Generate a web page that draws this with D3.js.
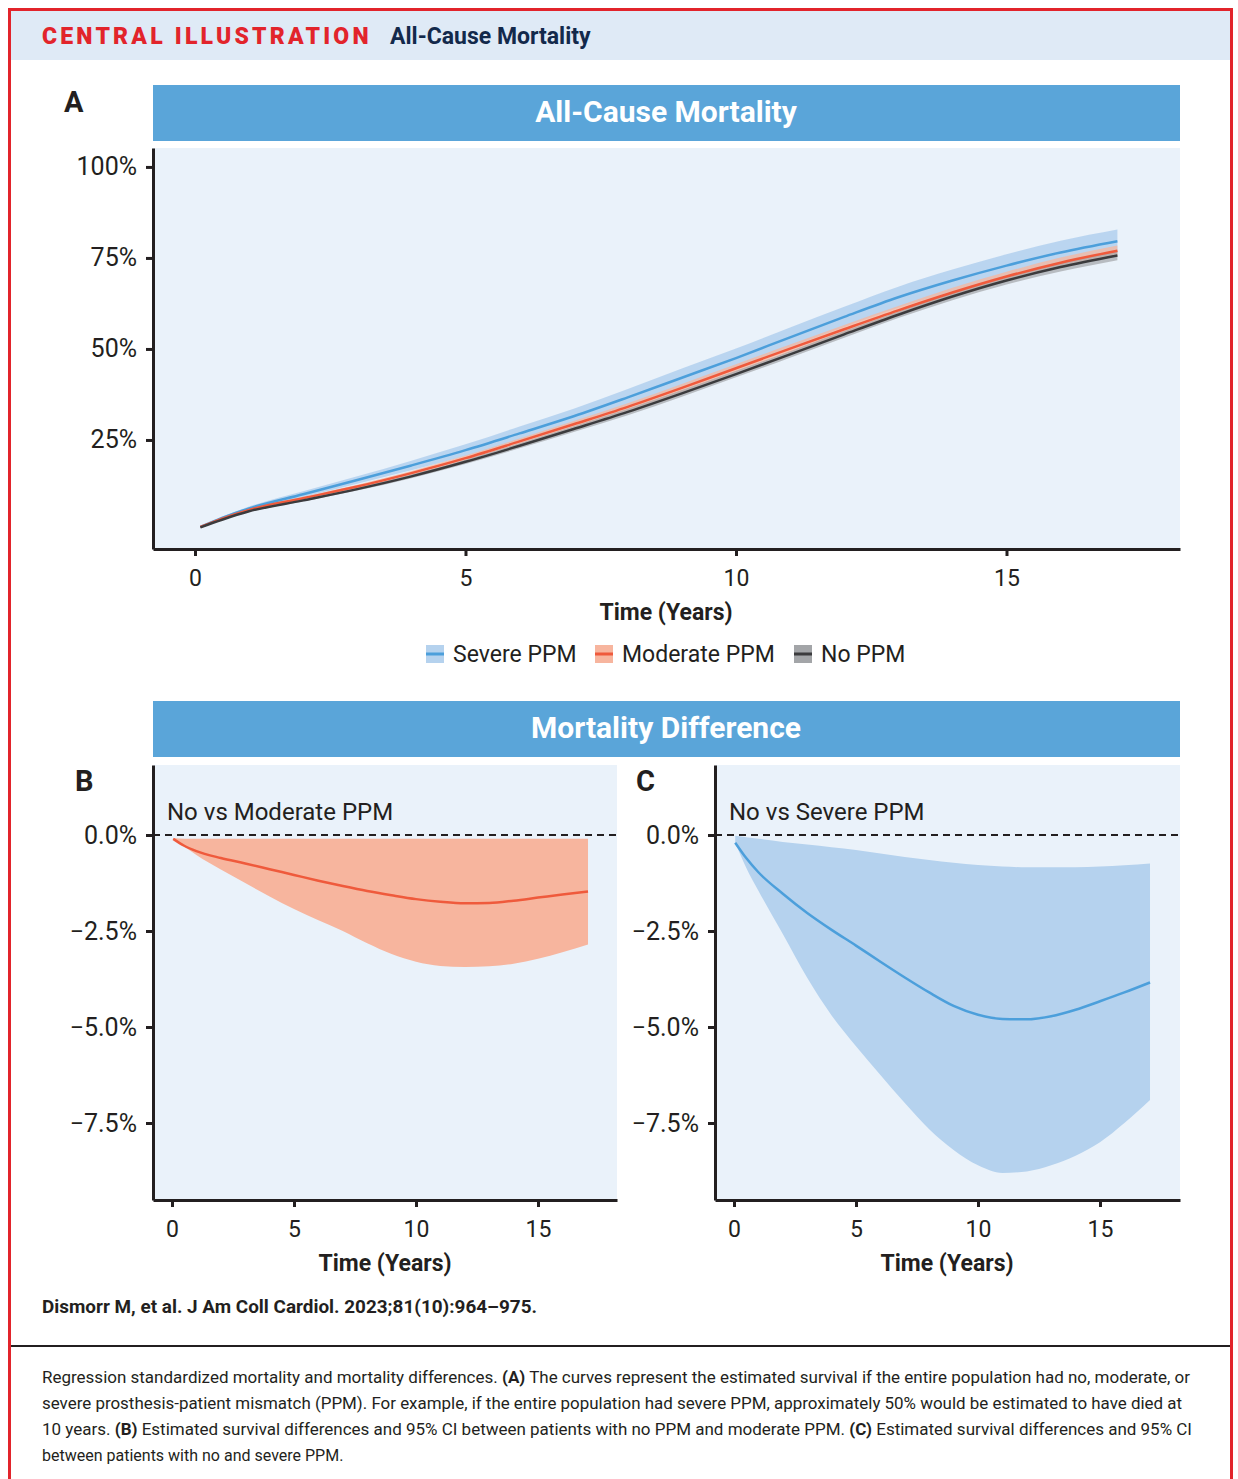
<!DOCTYPE html>
<html>
<head>
<meta charset="utf-8">
<script src="https://cdn.jsdelivr.net/npm/d3@7/dist/d3.min.js"></script>
<style>
  body { margin: 0; background: #fff; }
  svg { display: block; font-family: Roboto, "Liberation Sans", sans-serif; }
</style>
</head>
<body>
<svg id="chart" width="1238" height="1479"></svg>
<script>
// ---- data ----
const years = [0.1, 0.5, 1, 2, 3, 4, 5, 6, 7, 8, 9, 10, 11, 12, 13, 14, 15, 16, 17.05];

const severeMort = [1.1, 3.6, 6.2, 10.1, 14.0, 18.0, 22.2, 26.8, 31.5, 36.7, 42.1, 47.5, 53.2, 58.8, 64.2, 68.8, 72.9, 76.5, 79.6];
const severeHi = [1.2, 3.9, 6.7, 10.9, 15.0, 19.3, 23.8, 28.7, 33.6, 39.0, 44.6, 50.1, 55.9, 61.6, 67.1, 71.8, 76.0, 79.7, 82.8];
const severeLo = [1.0, 3.3, 5.7, 9.3, 13.0, 16.7, 20.6, 24.9, 29.4, 34.4, 39.6, 44.9, 50.5, 56.0, 61.3, 65.8, 69.8, 73.3, 76.4];

const moderateMort = [1.1, 3.4, 5.8, 9.0, 12.2, 15.9, 20.0, 24.6, 29.3, 34.1, 39.3, 44.7, 50.1, 55.4, 60.6, 65.5, 69.9, 73.7, 77.0];
const moderateHi = [1.15, 3.6, 6.1, 9.4, 12.7, 16.5, 20.7, 25.4, 30.2, 35.1, 40.4, 45.8, 51.2, 56.6, 61.8, 66.8, 71.2, 75.1, 78.4];
const moderateLo = [1.05, 3.2, 5.5, 8.6, 11.7, 15.3, 19.3, 23.8, 28.4, 33.1, 38.2, 43.6, 49.0, 54.2, 59.4, 64.2, 68.6, 72.3, 75.6];

const noMort = [1.0, 3.1, 5.4, 8.4, 11.5, 15.0, 19.0, 23.4, 28.0, 32.7, 37.8, 43.1, 48.5, 54.0, 59.4, 64.4, 68.8, 72.5, 75.7];
const noHi = [1.05, 3.25, 5.6, 8.7, 11.9, 15.5, 19.6, 24.1, 28.8, 33.6, 38.7, 44.0, 49.4, 54.9, 60.3, 65.4, 69.9, 73.7, 77.0];
const noLo = [0.95, 2.95, 5.2, 8.1, 11.1, 14.5, 18.4, 22.7, 27.2, 31.8, 36.9, 42.2, 47.6, 53.1, 58.5, 63.4, 67.7, 71.3, 74.4];

const diffYears = [0.05, 0.5, 1, 2, 3, 4, 5, 6, 7, 8, 9, 10, 11, 12, 13, 14, 15, 16, 17.05];

const modDiff = [-0.1, -0.28, -0.42, -0.6, -0.74, -0.89, -1.04, -1.19, -1.33, -1.46, -1.57, -1.67, -1.74, -1.78, -1.77, -1.71, -1.63, -1.55, -1.47];
const modDiffLo = [-0.1, -0.3, -0.52, -0.9, -1.25, -1.6, -1.93, -2.22, -2.5, -2.82, -3.1, -3.3, -3.41, -3.44, -3.42, -3.35, -3.22, -3.05, -2.85];
const modDiffHi = [-0.08, -0.1, -0.1, -0.1, -0.1, -0.1, -0.1, -0.1, -0.1, -0.1, -0.1, -0.1, -0.1, -0.1, -0.1, -0.1, -0.1, -0.1, -0.1];

const sevDiff = [-0.2, -0.6, -0.97, -1.53, -2.03, -2.47, -2.88, -3.3, -3.71, -4.1, -4.45, -4.68, -4.79, -4.8, -4.72, -4.55, -4.33, -4.1, -3.84];
const sevDiffLo = [-0.2, -0.85, -1.45, -2.58, -3.72, -4.7, -5.5, -6.25, -6.98, -7.66, -8.2, -8.6, -8.8, -8.76, -8.6, -8.35, -8.0, -7.5, -6.9];
const sevDiffHi = [-0.02, -0.06, -0.1, -0.18, -0.25, -0.32, -0.39, -0.48, -0.57, -0.65, -0.72, -0.78, -0.82, -0.84, -0.84, -0.84, -0.82, -0.79, -0.74];

const xTicks = [0, 5, 10, 15];
const mortTicks = [25, 50, 75, 100];
const diffTicks = [0, -2.5, -5, -7.5];
const legendNames = ["Severe PPM", "Moderate PPM", "No PPM"];

// ---- styles ----
const ink = "#231f20";
const barBlue = "#5aa5d9";
const plotBg = "#eaf2fa";
const col = {
  severe: { line: "#4c9fdb", band: "#b5d2ee" },
  moderate: { line: "#ef5a3c", band: "#f7b59e" },
  none: { line: "#3b3b3d", band: "#a3a5a8" }
};

const svg = d3.select("#chart");

// frame + header
svg.append("rect").attr("x", 11).attr("y", 11).attr("width", 1219).attr("height", 49).attr("fill", "#dfeaf6");
svg.append("rect").attr("x", 9.5).attr("y", 9.5).attr("width", 1222).attr("height", 1490)
  .attr("fill", "none").attr("stroke", "#e2242b").attr("stroke-width", 3);

svg.append("text").attr("x", 42).attr("y", 44)
  .attr("font-size", 23).attr("font-weight", 900).attr("letter-spacing", 3.2)
  .attr("fill", "#e2242b").text("CENTRAL ILLUSTRATION");
svg.append("text").attr("x", 390).attr("y", 44)
  .attr("font-size", 23).attr("font-weight", 700).attr("fill", "#13294b")
  .text("All-Cause Mortality");

function titleBar(y, label) {
  svg.append("rect").attr("x", 153).attr("y", y).attr("width", 1027).attr("height", 56).attr("fill", barBlue);
  svg.append("text").attr("x", 666).attr("y", y + 37).attr("text-anchor", "middle")
    .attr("font-size", 30).attr("font-weight", 700).attr("fill", "#fff").text(label);
}

function panelLetter(x, y, t) {
  svg.append("text").attr("x", x).attr("y", y).attr("font-size", 29).attr("font-weight", 700)
    .attr("fill", ink).text(t);
}

function styleAxis(g, size) {
  g.select(".domain").attr("stroke", ink).attr("stroke-width", 3);
  g.selectAll(".tick line").attr("stroke", ink).attr("stroke-width", 3);
  g.selectAll(".tick text").attr("fill", ink).attr("font-size", size).attr("font-family", "Roboto, sans-serif");
}

// generic panel: background, axes, returns scales
function panel(p) {
  const x = d3.scaleLinear().domain(p.xDomain).range([p.left, p.right]);
  const y = d3.scaleLinear().domain(p.yDomain).range([p.bottom, p.top]);
  svg.append("rect").attr("x", p.left).attr("y", p.top)
    .attr("width", p.right - p.left).attr("height", p.bottom - p.top).attr("fill", plotBg);
  const layer = svg.append("g");

  const gx = svg.append("g").attr("transform", `translate(0,${p.bottom})`)
    .call(d3.axisBottom(x).tickValues(xTicks).tickSizeOuter(0).tickSizeInner(7).tickPadding(9));
  styleAxis(gx, 23);
  gx.selectAll(".tick text").attr("dy", "0.9em");

  const gy = svg.append("g").attr("transform", `translate(${p.left},0)`)
    .call(d3.axisLeft(y).tickValues(p.yTicks).tickFormat(p.fmt).tickSizeOuter(0).tickSizeInner(7).tickPadding(9));
  styleAxis(gy, 25);

  // axis label
  svg.append("text").attr("x", p.labelX).attr("y", p.bottom + 71).attr("text-anchor", "middle")
    .attr("font-size", 23).attr("font-weight", 700).attr("fill", ink).text("Time (Years)");
  return { x, y, layer };
}

function band(layer, x, y, xs, lo, hi, fill, op) {
  const data = xs.map((t, i) => ({ t, lo: lo[i], hi: hi[i] }));
  layer.append("path").datum(data)
    .attr("fill", fill).attr("fill-opacity", op)
    .attr("d", d3.area().curve(d3.curveMonotoneX).x(d => x(d.t)).y0(d => y(d.lo)).y1(d => y(d.hi)));
}

function line(layer, x, y, xs, vals, stroke, w) {
  const data = xs.map((t, i) => ({ t, v: vals[i] }));
  layer.append("path").datum(data)
    .attr("fill", "none").attr("stroke", stroke).attr("stroke-width", w)
    .attr("stroke-linejoin", "round")
    .attr("d", d3.line().curve(d3.curveMonotoneX).x(d => x(d.t)).y(d => y(d.v)));
}

// ---- Panel A ----
panelLetter(64, 112, "A");
titleBar(85, "All-Cause Mortality");
const A = panel({
  left: 153, right: 1180, top: 148, bottom: 549,
  xDomain: [-0.776, 18.207], yDomain: [-4.95, 105.2],
  yTicks: mortTicks, fmt: d => d + "%", labelX: 666
});
band(A.layer, A.x, A.y, years, severeLo, severeHi, col.severe.band, 0.9);
band(A.layer, A.x, A.y, years, moderateLo, moderateHi, col.moderate.band, 0.75);
band(A.layer, A.x, A.y, years, noLo, noHi, col.none.band, 0.7);
line(A.layer, A.x, A.y, years, severeMort, col.severe.line, 2.5);
line(A.layer, A.x, A.y, years, moderateMort, col.moderate.line, 2.5);
line(A.layer, A.x, A.y, years, noMort, col.none.line, 2.5);

// legend
const legendX = [426, 595, 794];
const legendCols = [col.severe, col.moderate, col.none];
legendNames.forEach((name, i) => {
  const g = svg.append("g").attr("transform", `translate(${legendX[i]},645)`);
  g.append("rect").attr("width", 18).attr("height", 18).attr("fill", legendCols[i].band);
  g.append("rect").attr("y", 7.5).attr("width", 18).attr("height", 3).attr("fill", legendCols[i].line);
  g.append("text").attr("x", 27).attr("y", 17).attr("font-size", 23).attr("fill", ink).text(name);
});

// ---- Difference panels ----
titleBar(701, "Mortality Difference");
const diffFmt = d => (d < 0 ? "\u2212" : "") + Math.abs(d).toFixed(1) + "%";

function diffPanel(opt) {
  panelLetter(opt.letterX, 791, opt.letter);
  const P = panel({
    left: opt.left, right: opt.right, top: 765, bottom: 1200,
    xDomain: opt.xDomain, yDomain: [-9.505, 1.823],
    yTicks: diffTicks, fmt: diffFmt, labelX: opt.labelX
  });
  P.layer.append("line").attr("x1", opt.left).attr("x2", opt.right)
    .attr("y1", P.y(0)).attr("y2", P.y(0))
    .attr("stroke", ink).attr("stroke-width", 2).attr("stroke-dasharray", "7,5");
  band(P.layer, P.x, P.y, diffYears, opt.lo, opt.hi, opt.c.band, 1);
  line(P.layer, P.x, P.y, diffYears, opt.mid, opt.c.line, 2.5);
  svg.append("text").attr("x", opt.left + 14).attr("y", 820).attr("font-size", 24)
    .attr("fill", ink).text(opt.title);
}

diffPanel({
  letter: "B", letterX: 75, left: 153, right: 617, xDomain: [-0.779, 18.238], labelX: 385,
  lo: modDiffLo, hi: modDiffHi, mid: modDiff, c: col.moderate, title: "No vs Moderate PPM"
});
diffPanel({
  letter: "C", letterX: 636, left: 715, right: 1180, xDomain: [-0.779, 18.279], labelX: 947,
  lo: sevDiffLo, hi: sevDiffHi, mid: sevDiff, c: col.severe, title: "No vs Severe PPM"
});

// ---- footer ----
svg.append("text").attr("x", 42).attr("y", 1313).attr("font-size", 18).attr("font-weight", 700)
  .attr("textLength", 495).attr("lengthAdjust", "spacingAndGlyphs")
  .attr("fill", ink).text("Dismorr M, et al. J Am Coll Cardiol. 2023;81(10):964\u2013975.");
svg.append("line").attr("x1", 11).attr("x2", 1230).attr("y1", 1346).attr("y2", 1346)
  .attr("stroke", ink).attr("stroke-width", 2);

const caption = [
  { y: 1383, len: 1148, parts: [["Regression standardized mortality and mortality differences. ", 400], ["(A)", 700], [" The curves represent the estimated survival if the entire population had no, moderate, or", 400]] },
  { y: 1409, len: 1140, parts: [["severe prosthesis-patient mismatch (PPM). For example, if the entire population had severe PPM, approximately 50% would be estimated to have died at", 400]] },
  { y: 1435, len: 1150, parts: [["10 years. ", 400], ["(B)", 700], [" Estimated survival differences and 95% CI between patients with no PPM and moderate PPM. ", 400], ["(C)", 700], [" Estimated survival differences and 95% CI", 400]] },
  { y: 1461, len: null, parts: [["between patients with no and severe PPM.", 400]] }
];
caption.forEach(c => {
  const t = svg.append("text").attr("x", 42).attr("y", c.y).attr("font-size", 16).attr("fill", ink);
  if (c.len) t.attr("textLength", c.len).attr("lengthAdjust", "spacingAndGlyphs");
  c.parts.forEach(([s, w]) => t.append("tspan").attr("font-weight", w).text(s));
});
</script>
</body>
</html>
